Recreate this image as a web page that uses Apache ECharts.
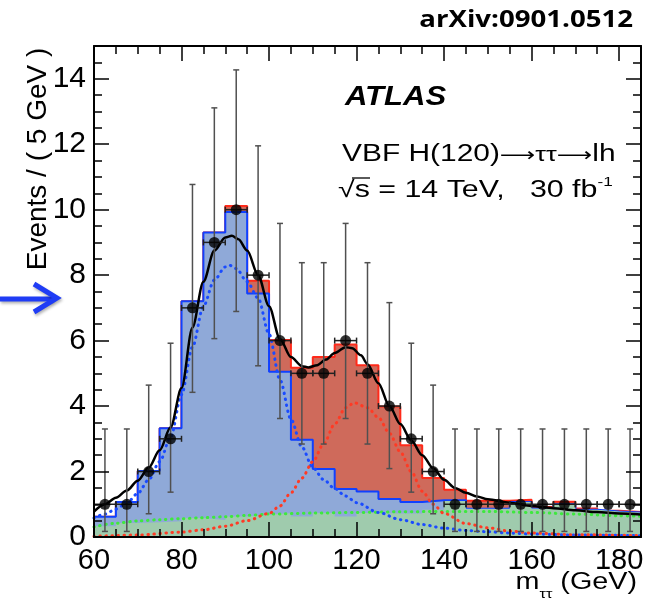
<!DOCTYPE html>
<html>
<head>
<meta charset="utf-8"/>
<script src="https://cdn.jsdelivr.net/npm/echarts@6.0.0/dist/echarts.min.js"></script>
<style>
  html, body { margin: 0; padding: 0; background: #fff; }
  #main { width: 656px; height: 602px; }
</style>
</head>
<body>
<div id="main"></div>
<script type="text/javascript">
    // bin edges in GeV (5 GeV bins)
    var binEdges = [60,65,70,75,80,85,90,95,100,105,110,115,120,125,130,135,140,145,150,155,160,165,170,175,180,185];

    // stacked histogram heights per bin (drawn overlapped, ROOT style)
    var bkgOther = [0.33,0.43,0.45,0.48,0.58,0.52,0.63,0.68,0.73,0.63,0.73,0.63,0.73,0.72,0.72,0.83,1.10,0.86,0.86,1.07,0.87,1.00,0.83,0.78,0.75];
    var bkgWithZ = [0.62,1.07,2.02,3.32,7.20,9.30,9.93,7.44,5.05,2.97,2.08,1.47,1.39,1.16,1.07,1.12,1.12,0.86,0.86,1.07,0.87,1.00,0.83,0.78,0.75];
    var totalMC  = [0.62,1.07,2.02,3.32,7.20,9.30,10.11,7.83,6.02,5.17,5.50,5.88,5.25,3.99,2.80,1.80,1.44,1.11,1.11,1.14,0.92,1.08,0.87,0.80,0.76];

    // pseudo-data with asymmetric errors
    var dataCounts = [1,1,2,3,7,9,10,8,6,5,5,6,5,4,3,2,1,1,1,1,1,1,1,1,1];
    var errLow  = [0.17,0.17,0.71,1.37,4.42,6.06,6.89,5.23,3.62,2.84,2.84,3.62,2.84,2.09,1.37,0.71,0.17,0.17,0.17,0.17,0.17,0.17,0.17,0.17,0.17];
    var errHigh = [3.30,3.30,4.64,5.92,10.77,13.11,14.27,11.95,9.58,8.38,8.38,9.58,8.38,7.16,5.92,4.64,3.30,3.30,3.30,3.30,3.30,3.30,3.30,3.30,3.30];

    // fitted curves
    var fitTotal = [[60,0.78],[62.5,1.0],[65,1.2],[67.5,1.42],[70,1.72],[72.5,2.12],[75,2.65],[77.5,3.35],[80,4.55],[82.5,6.4],[85,7.8],[87.5,8.75],[90,9.15],[91.5,9.2],[93,9.1],[95,8.75],[97.5,8.0],[100,7.05],[102.5,6.05],[105,5.5],[107.5,5.22],[109,5.18],[111,5.25],[113,5.42],[115,5.62],[117.5,5.8],[119,5.77],[121,5.55],[122.5,5.28],[125,4.7],[127.5,4.0],[130,3.45],[132.5,2.95],[135,2.5],[137.5,2.1],[140,1.75],[142.5,1.5],[145,1.35],[147.5,1.24],[150,1.15],[155,1.05],[160,0.95],[165,0.88],[170,0.82],[175,0.76],[180,0.72],[185,0.69]];
    var fitZ = [[60,0.58],[62.5,0.7],[65,0.85],[67.5,1.04],[70,1.33],[72.5,1.75],[75,2.3],[77.5,3.05],[80,4.35],[82.5,5.8],[85,7.05],[87.5,7.85],[90,8.25],[91,8.3],[92.5,8.2],[95,7.8],[97.5,7.3],[100,6.2],[102.5,4.8],[105,3.6],[107.5,2.75],[110,2.12],[112.5,1.75],[115,1.48],[117.5,1.25],[120,1.05],[125,0.75],[130,0.53],[135,0.38],[140,0.27],[145,0.2],[150,0.16],[155,0.12],[160,0.09],[170,0.06],[185,0.04]];
    var fitSignal = [[60,0.02],[70,0.06],[80,0.15],[85,0.22],[90,0.33],[95,0.5],[100,0.72],[102.5,0.95],[105,1.35],[107.5,1.8],[110,2.3],[112.5,2.85],[115,3.45],[117.5,3.95],[119.5,4.1],[122.5,3.95],[125,3.65],[127.5,3.17],[130,2.6],[132.5,2.0],[135,1.4],[137.5,1.0],[140,0.72],[145,0.41],[150,0.28],[155,0.18],[160,0.12],[170,0.07],[185,0.04]];
    var fitBkg = [[60,0.31],[65,0.42],[70,0.49],[75,0.53],[80,0.56],[85,0.59],[90,0.62],[95,0.66],[100,0.7],[110,0.73],[120,0.75],[130,0.77],[140,0.78],[150,0.78],[160,0.75],[170,0.7],[180,0.65],[185,0.63]];

    var xTicks = [60,80,100,120,140,160,180];
    var yTicks = [0,2,4,6,8,10,12,14];

    function stepData(vals) {
        var d = [];
        for (var i = 0; i < vals.length; i++) d.push([binEdges[i], vals[i]]);
        d.push([binEdges[vals.length], vals[vals.length - 1]]);
        return d;
    }

    var points = [];
    for (var i = 0; i < dataCounts.length; i++) {
        points.push([(binEdges[i] + binEdges[i + 1]) / 2, dataCounts[i], errLow[i], errHigh[i], binEdges[i], binEdges[i + 1]]);
    }

    var myChart = echarts.init(document.getElementById('main'));

    var FONT = 'Liberation Sans';
    function xAxisCfg(pos, labels) {
        return {
            type: 'value', position: pos, min: 60, max: 185, interval: 20, z: 10,
            axisLine: {show: true, onZero: false, lineStyle: {color: '#000', width: 2}},
            axisTick: {show: true, inside: true, length: 15, lineStyle: {color: '#000', width: 1.5}},
            minorTick: {show: true, splitNumber: 4, length: 8, lineStyle: {color: '#000', width: 1.5}},
            splitLine: {show: false},
            axisLabel: {
                show: labels, fontSize: 29, color: '#000', fontFamily: FONT, margin: 9,
                showMaxLabel: false,
                formatter: function (v) { return xTicks.indexOf(v) >= 0 ? String(v) : ''; }
            }
        };
    }
    function yAxisCfg(pos, labels) {
        return {
            type: 'value', position: pos, min: 0, max: 15, interval: 2, z: 10,
            axisLine: {show: true, onZero: false, lineStyle: {color: '#000', width: 2}},
            axisTick: {show: true, inside: true, length: 15, lineStyle: {color: '#000', width: 1.5}},
            minorTick: {show: true, splitNumber: 4, length: 8, lineStyle: {color: '#000', width: 1.5}},
            splitLine: {show: false},
            axisLabel: {
                show: labels, fontSize: 30, color: '#000', fontFamily: FONT, margin: 8,
                showMaxLabel: false,
                formatter: function (v) { return yTicks.indexOf(v) >= 0 ? String(v) : ''; }
            }
        };
    }

    function dotted(color) {
        return {color: color, width: 3, type: [0.5, 5.5], cap: 'round'};
    }

    option = {
        animation: false,
        backgroundColor: '#fff',
        grid: {left: 94, top: 46, right: 15, bottom: 65, containLabel: false, outerBoundsMode: 'none'},
        xAxis: [xAxisCfg('bottom', true), xAxisCfg('top', false)],
        yAxis: [yAxisCfg('left', true), yAxisCfg('right', false)],
        graphic: [
            {type: 'text', x: 633, y: 20, scaleX: 1.2,
             style: {text: 'arXiv:0901.0512', fontFamily: 'Open Sans', fontWeight: 'bold', fontSize: 23, fill: '#000', align: 'right', verticalAlign: 'middle'}},
            {type: 'text', x: 345, y: 98, scaleX: 1.15, z: 20,
             style: {text: 'ATLAS', fontFamily: FONT, fontWeight: 'bold', fontStyle: 'italic', fontSize: 27, fill: '#000', align: 'left', verticalAlign: 'middle'}},
            {type: 'text', x: 342, y: 152, scaleX: 1.3, z: 20,
             style: {text: '{n|VBF H(120)}{a|\u27f6}{t|\u03c4\u03c4}{a|\u27f6}{n|lh}', fontFamily: FONT, fontSize: 23, fill: '#000', align: 'left', verticalAlign: 'middle',
                     rich: {n: {fontFamily: FONT, fontSize: 23, lineHeight: 28, verticalAlign: 'bottom'},
                            a: {fontFamily: 'DejaVu Sans', fontSize: 19, lineHeight: 28, verticalAlign: 'bottom'},
                            t: {fontFamily: FONT, fontSize: 21, lineHeight: 28, verticalAlign: 'bottom'}}}},
            {type: 'text', x: 338, y: 189, scaleX: 1.32, z: 20,
             style: {text: '{n|\u221as = 14 TeV,   30 fb}{s|-1}', fontFamily: FONT, fontSize: 23, fill: '#000', align: 'left', verticalAlign: 'middle',
                     rich: {n: {fontFamily: FONT, fontSize: 23, lineHeight: 26, verticalAlign: 'bottom'}, s: {fontFamily: FONT, fontSize: 13, lineHeight: 26, verticalAlign: 'top'}}}},
            {type: 'line', z: 20, shape: {x1: 352, y1: 178, x2: 370, y2: 178}, style: {stroke: '#000', lineWidth: 1.3}},
            {type: 'text', x: 38, y: 159, rotation: Math.PI / 2, z: 20,
             style: {text: 'Events / ( 5 GeV )', fontFamily: FONT, fontSize: 28, fill: '#000', align: 'center', verticalAlign: 'middle'}},
            {type: 'text', x: 637, y: 586, scaleX: 1.25, z: 20,
             style: {text: '{m|m}{t|\u03c4\u03c4}{m| (GeV)}', fontFamily: FONT, fontSize: 23, fill: '#000', align: 'right', verticalAlign: 'middle',
                     rich: {m: {fontFamily: FONT, fontSize: 23, lineHeight: 30, verticalAlign: 'top'}, t: {fontFamily: FONT, fontSize: 13, lineHeight: 30, verticalAlign: 'bottom'}}}},
            {type: 'polyline', z: 20, shape: {points: [[0, 299], [53, 299]]},
             style: {stroke: '#1f3cf5', lineWidth: 5, shadowBlur: 3, shadowColor: 'rgba(0,0,0,0.3)', shadowOffsetX: 1, shadowOffsetY: 2}},
            {type: 'polyline', z: 20, shape: {points: [[34, 284], [57, 298], [34, 312]]},
             style: {stroke: '#1f3cf5', lineWidth: 5, lineJoin: 'miter', shadowBlur: 3, shadowColor: 'rgba(0,0,0,0.3)', shadowOffsetX: 1, shadowOffsetY: 2}}
        ],
        series: [
            {type: 'line', name: 'signal', step: 'end', symbol: 'none', z: 1, data: stepData(totalMC),
             lineStyle: {color: '#ff2a1a', width: 2}, areaStyle: {color: '#cf6a5b', opacity: 1}},
            {type: 'line', name: 'Z', step: 'end', symbol: 'none', z: 2, data: stepData(bkgWithZ),
             lineStyle: {color: '#1040ff', width: 2}, areaStyle: {color: '#8fa9d8', opacity: 1}},
            {type: 'line', name: 'other', step: 'end', symbol: 'none', z: 3, data: stepData(bkgOther),
             lineStyle: {width: 0}, areaStyle: {color: '#9fcbad', opacity: 1}},
            {type: 'line', symbol: 'none', smooth: 0.3, smoothMonotone: 'x', z: 4, data: fitBkg, lineStyle: dotted('#3ee83e')},
            {type: 'line', symbol: 'none', smooth: 0.3, smoothMonotone: 'x', z: 4, data: fitZ, lineStyle: dotted('#1a4bff')},
            {type: 'line', symbol: 'none', smooth: 0.3, smoothMonotone: 'x', z: 4, data: fitSignal, lineStyle: dotted('#ff3a24')},
            {type: 'line', symbol: 'none', smooth: 0.3, smoothMonotone: 'x', z: 5, data: fitTotal, lineStyle: {color: '#000', width: 2.5}},
            {type: 'custom', z: 6, data: points,
             renderItem: function (params, api) {
                 var x = api.value(0), y = api.value(1);
                 var top = api.coord([x, api.value(3)]);
                 var bot = api.coord([x, api.value(2)]);
                 var l = api.coord([api.value(4), y]);
                 var r = api.coord([api.value(5), y]);
                 var c = 3;
                 var s = {stroke: '#505050', lineWidth: 1.5};
                 var h = {stroke: '#222', lineWidth: 1.5};
                 return {type: 'group', children: [
                     {type: 'line', shape: {x1: top[0], y1: top[1], x2: bot[0], y2: bot[1]}, style: s},
                     {type: 'line', shape: {x1: top[0] - c, y1: top[1], x2: top[0] + c, y2: top[1]}, style: s},
                     {type: 'line', shape: {x1: bot[0] - c, y1: bot[1], x2: bot[0] + c, y2: bot[1]}, style: s},
                     {type: 'line', shape: {x1: l[0], y1: l[1], x2: r[0], y2: r[1]}, style: h},
                     {type: 'line', shape: {x1: l[0], y1: l[1] - c, x2: l[0], y2: l[1] + c}, style: h},
                     {type: 'line', shape: {x1: r[0], y1: r[1] - c, x2: r[0], y2: r[1] + c}, style: h}
                 ]};
             }},
            {type: 'scatter', z: 7, symbol: 'circle', symbolSize: 11, data: points.map(function (p) { return [p[0], p[1]]; }),
             itemStyle: {color: '#000'}}
        ]
    };

    myChart.setOption(option);
</script>
</body>
</html>
